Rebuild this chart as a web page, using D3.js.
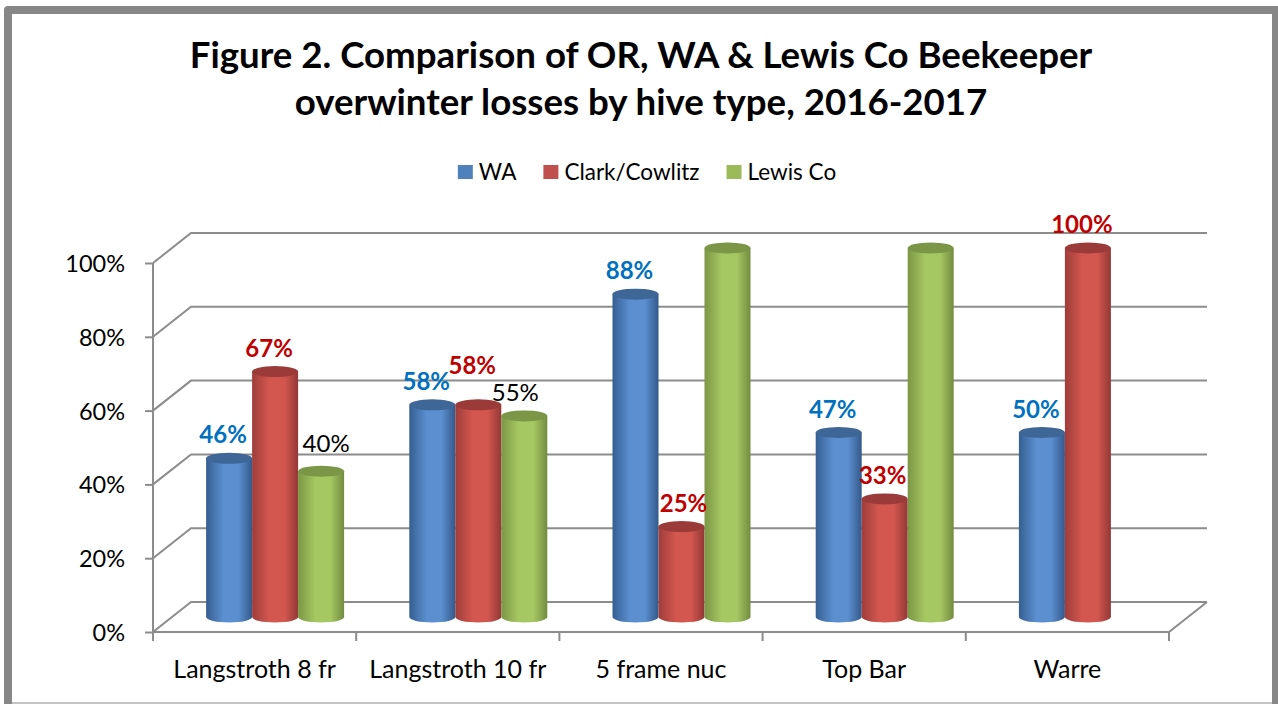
<!DOCTYPE html>
<html><head><meta charset="utf-8">
<script src="https://cdn.jsdelivr.net/npm/d3@7/dist/d3.min.js"></script>
<style>
body{margin:0;background:#fff}
svg{display:block}
text{font-family:Lato,'Open Sans',sans-serif}
</style>
</head><body>
<svg id="c" width="1278" height="704"></svg>
<script>
// ---------- data ----------
const categories = ["Langstroth 8 fr", "Langstroth 10 fr", "5 frame nuc", "Top Bar", "Warre"];
const seriesNames = ["WA", "Clark/Cowlitz", "Lewis Co"];
const waValues    = [0.43, 0.575, 0.875, 0.50, 0.50];
const clarkValues = [0.665, 0.575, 0.245, 0.32, 1.00];
const lewisValues = [0.395, 0.545, 1.00, 1.00, null];
const waLabels    = ["46%", "58%", "88%", "47%", "50%"];
const clarkLabels = ["67%", "58%", "25%", "33%", "100%"];
const lewisLabels = ["40%", "55%", "", "", ""];
const yTicks = [0, 0.2, 0.4, 0.6, 0.8, 1.0];
const titleLines = ["Figure 2. Comparison of OR, WA & Lewis Co Beekeeper",
                    "overwinter losses by hive type, 2016-2017"];

// ---------- layout / style ----------
const seriesValues = [waValues, clarkValues, lewisValues];
const seriesLabels = [waLabels, clarkLabels, lewisLabels];
const legendColors = ["#4F81BD", "#C0504D", "#9BBB59"];
const seriesColors = [
  {dark:"#365f92", light:"#5b8fd0", right:"#33598a", top:"#3e6697", label:"#0070C0", weight:"bold"},
  {dark:"#9e3d3b", light:"#d4574f", right:"#933836", top:"#9a3b39", label:"#C00000", weight:"bold"},
  {dark:"#7b9645", light:"#a6c862", right:"#728c40", top:"#7b9646", label:"#000000", weight:"normal"}
];
const labelNudge = {"Langstroth 8 fr|Lewis Co": [11, -4], "Langstroth 10 fr|Clark/Cowlitz": [0, -16],
                    "5 frame nuc|Clark/Cowlitz": [8, 0], "Top Bar|Clark/Cowlitz": [4, 0],
                    "Langstroth 10 fr|Lewis Co": [-3, 0]};
const gridColor = "#8c8c8c";
const DX = 38, DY = -30;           // depth of back wall
const MDX = 20.5, MDY = -15;       // bars at mid depth
const RY = 5.5;

const svg = d3.select("#c");

// frame
svg.append("rect").attr("x", 12).attr("y", 702).attr("width", 1262).attr("height", 2).attr("fill", "#c4c4c4");
svg.append("path")
  .attr("d", "M4,704 L4,10 Q4,6 8,6 L1278,6 L1278,704 L1272,704 L1272,14 L12,14 L12,704 Z")
  .attr("fill", "#878787");

// scales
const x0 = d3.scaleBand().domain(categories).range([153, 1169]);
const x1 = d3.scaleBand().domain(seriesNames).range([-69, 69]);
const y = d3.scaleLinear().domain([0, 1]).range([632, 263]);
const xL = x0.range()[0], xR = x0.range()[1];

// gradients
const defs = svg.append("defs");
seriesNames.forEach((s, i) => {
  const g = defs.append("linearGradient").attr("id", "g" + i)
    .attr("x1", "0%").attr("x2", "100%").attr("y1", "0%").attr("y2", "0%");
  const c = seriesColors[i];
  g.append("stop").attr("offset", "0%").attr("stop-color", c.dark);
  g.append("stop").attr("offset", "38%").attr("stop-color", c.light);
  g.append("stop").attr("offset", "70%").attr("stop-color", c.light);
  g.append("stop").attr("offset", "100%").attr("stop-color", c.right);
});

// walls: gridlines (side + back)
const grid = svg.append("g").attr("fill", "none").attr("stroke", gridColor).attr("stroke-width", 2);
yTicks.forEach(v => {
  grid.append("path").attr("d",
    `M${xL},${y(v)} L${xL + DX},${y(v) + DY} L${xR + DX},${y(v) + DY}`);
});
// floor
grid.append("path").attr("d",
  `M${xR + DX},${y(0) + DY} L${xR},${y(0)} L${xL},${y(0)}`);

// y axis
const yAxis = svg.append("g").attr("transform", `translate(${xL},0)`)
  .call(d3.axisLeft(y).tickValues(yTicks).tickFormat(d3.format(".0%")).tickSize(8).tickPadding(20));
yAxis.select(".domain").attr("stroke", gridColor).attr("stroke-width", 2).attr("d", `M0,${y(0)}V${y(1)}`);
yAxis.selectAll(".tick line").attr("stroke", gridColor).attr("stroke-width", 2);
yAxis.selectAll(".tick text").attr("font-size", 23.5).attr("fill", "#000")
  .attr("font-family", "Lato").attr("dy", "0.36em");

// x axis
const xAxis = svg.append("g").attr("transform", `translate(0,${y(0)})`)
  .call(d3.axisBottom(x0).tickSize(0).tickPadding(0));
xAxis.select(".domain").remove();
xAxis.selectAll(".tick text").attr("font-size", 25).attr("fill", "#000")
  .attr("font-family", "Lato").attr("y", 46).attr("dy", 0);
const bounds = categories.map(c => x0(c)).concat([xR]);
svg.append("g").selectAll("line").data(bounds).join("line")
  .attr("x1", d => d).attr("x2", d => d).attr("y1", y(0)).attr("y2", y(0) + 9)
  .attr("stroke", gridColor).attr("stroke-width", 2);

// cylinders
const bars = svg.append("g");
const labels = svg.append("g");
categories.forEach((c, ci) => {
  seriesNames.forEach((s, si) => {
    const v = seriesValues[si][ci];
    if (v == null) return;
    const rx = x1.bandwidth() / 2;
    const cx = x0(c) + x0.bandwidth() / 2 + x1(s) + rx + MDX;
    const yb = y(0) + MDY, yt = y(v) + MDY;
    const g = bars.append("g");
    g.append("path")
      .attr("d", `M${cx - rx},${yt} L${cx - rx},${yb} A${rx},${RY} 0 0 0 ${cx + rx},${yb} L${cx + rx},${yt} Z`)
      .attr("fill", `url(#g${si})`);
    g.append("ellipse").attr("cx", cx).attr("cy", yt).attr("rx", rx).attr("ry", RY)
      .attr("fill", seriesColors[si].top);
    const lab = seriesLabels[si][ci];
    if (lab) {
      const n = labelNudge[c + "|" + s] || [0, 0];
      labels.append("text").attr("x", cx - 6 + n[0]).attr("y", yt - 15 + n[1])
        .attr("text-anchor", "middle").attr("font-size", 24)
        .attr("font-weight", seriesColors[si].weight).attr("fill", seriesColors[si].label)
        .text(lab);
    }
  });
});

// title
const title = svg.append("g");
const t1 = title.append("text").attr("x", 641).attr("y", 68).attr("text-anchor", "middle")
  .attr("font-weight", "bold").attr("font-size", 32).text(titleLines[0]);
const fs = 32 * 903 / t1.node().getComputedTextLength();
t1.attr("font-size", fs);
title.append("text").attr("x", 641).attr("y", 115).attr("text-anchor", "middle")
  .attr("font-weight", "bold").attr("font-size", fs).text(titleLines[1]);

// legend
const legend = svg.append("g");
let lx = 0;
seriesNames.forEach((s, i) => {
  const it = legend.append("g").attr("transform", `translate(${lx},0)`);
  it.append("rect").attr("x", 0).attr("y", 165).attr("width", 15).attr("height", 14)
    .attr("fill", legendColors[i]);
  const tx = it.append("text").attr("x", 21).attr("y", 180).attr("font-size", 22.5)
    .attr("fill", "#000").text(s);
  lx += 21 + tx.node().getComputedTextLength() + 27;
});
const lw = lx - 27;
legend.attr("transform", `translate(${647 - lw / 2},0)`);
</script>
</body></html>
